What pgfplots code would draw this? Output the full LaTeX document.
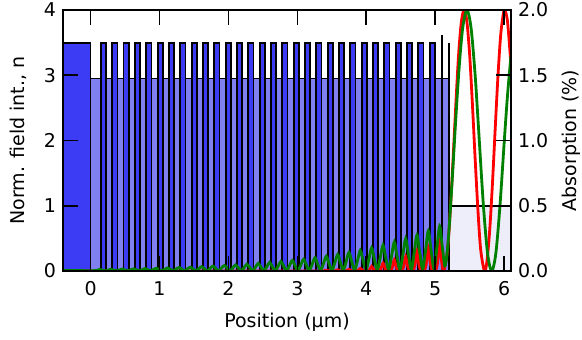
\documentclass[border=0pt]{standalone}
\usepackage{fontspec}
\setmainfont{DejaVu Sans}
\usepackage{pgfplots}
\pgfplotsset{compat=1.18}
\definecolor{dbar}{RGB}{60,60,245}
\definecolor{lbar}{RGB}{128,128,240}
\definecolor{airc}{RGB}{238,238,250}
\definecolor{qwred}{RGB}{200,30,30}
\definecolor{mgreen}{RGB}{0,128,0}
\definecolor{mred}{RGB}{255,0,0}
\begin{document}
\begin{tikzpicture}
\path[use as bounding box] (-63bp,-69bp) rectangle (519bp,271bp);
\pgfplotsset{every axis/.append style={scale only axis, width=448bp, height=261bp,
  xmin=-0.4, xmax=6.1, font=\fontsize{19bp}{22bp}\selectfont,
  tick align=inside, major tick length=15bp,
  tick style={line width=1.6bp, black}, axis line style={line width=1.6bp}}}
\begin{axis}[ymin=0, ymax=4, axis on top,
  xtick={0,1,2,3,4,5,6}, xticklabels={0,1,2,3,4,5,6},
  ytick={0,1,2,3,4}, yticklabels={0,1,2,3,4},
  xtick pos=both, xticklabel pos=bottom, ytick pos=left,
  xticklabel style={yshift=-7bp}, yticklabel style={xshift=-3.5bp},
  xlabel={Position (µm)}, ylabel={Norm. field int., n},
  xlabel style={at={(axis description cs:0.5,-0.195)}, anchor=center},
  ylabel style={at={(axis description cs:-0.1,0.5)}, anchor=center}]
% substrate
\addplot[fill=dbar, draw=black, line width=1.8bp] coordinates {(-0.5,0)(-0.5,3.5)(0,3.5)(0,0)} --cycle;
% low-index layers
\addplot[fill=lbar, draw=black, line width=1.8bp] coordinates {(0,0)(0,2.95)(5.2,2.95)(5.2,0)} --cycle;
% high-index layers
\addplot[fill=dbar, draw=black, line width=1.8bp] coordinates {
(0.150,0)(0.150,3.5)(0.225,3.5)(0.225,0)
(0.315,0)(0.315,3.5)(0.390,3.5)(0.390,0)
(0.479,0)(0.479,3.5)(0.554,3.5)(0.554,0)
(0.644,0)(0.644,3.5)(0.719,3.5)(0.719,0)
(0.808,0)(0.808,3.5)(0.883,3.5)(0.883,0)
(0.973,0)(0.973,3.5)(1.048,3.5)(1.048,0)
(1.137,0)(1.137,3.5)(1.212,3.5)(1.212,0)
(1.302,0)(1.302,3.5)(1.377,3.5)(1.377,0)
(1.466,0)(1.466,3.5)(1.541,3.5)(1.541,0)
(1.631,0)(1.631,3.5)(1.706,3.5)(1.706,0)
(1.795,0)(1.795,3.5)(1.870,3.5)(1.870,0)
(1.960,0)(1.960,3.5)(2.035,3.5)(2.035,0)
(2.124,0)(2.124,3.5)(2.199,3.5)(2.199,0)
(2.289,0)(2.289,3.5)(2.364,3.5)(2.364,0)
(2.453,0)(2.453,3.5)(2.528,3.5)(2.528,0)
(2.618,0)(2.618,3.5)(2.693,3.5)(2.693,0)
(2.782,0)(2.782,3.5)(2.857,3.5)(2.857,0)
(2.947,0)(2.947,3.5)(3.022,3.5)(3.022,0)
(3.111,0)(3.111,3.5)(3.186,3.5)(3.186,0)
(3.276,0)(3.276,3.5)(3.351,3.5)(3.351,0)
(3.440,0)(3.440,3.5)(3.515,3.5)(3.515,0)
(3.605,0)(3.605,3.5)(3.680,3.5)(3.680,0)
(3.769,0)(3.769,3.5)(3.844,3.5)(3.844,0)
(3.934,0)(3.934,3.5)(4.009,3.5)(4.009,0)
(4.098,0)(4.098,3.5)(4.173,3.5)(4.173,0)
(4.263,0)(4.263,3.5)(4.338,3.5)(4.338,0)
(4.427,0)(4.427,3.5)(4.502,3.5)(4.502,0)
(4.592,0)(4.592,3.5)(4.667,3.5)(4.667,0)
(4.756,0)(4.756,3.5)(4.831,3.5)(4.831,0)
(4.921,0)(4.921,3.5)(4.996,3.5)(4.996,0)
} --cycle;
% active layer
\addplot[fill=qwred, draw=none] coordinates {(5.098,0)(5.098,2.7)(5.118,2.7)(5.118,0)} --cycle;
\addplot[black, line width=1.8bp] coordinates {(5.094,0)(5.094,3.62)};
\addplot[black, line width=1.8bp] coordinates {(5.2,0)(5.2,3.5)};
% air
\addplot[fill=airc, draw=black, line width=1.8bp] coordinates {(5.2,0)(5.2,1)(6.3,1)(6.3,0)} --cycle;
% red field
\addplot[mred, line width=2.8bp, smooth] coordinates {
(-0.4,0)
(3.36,0)(3.39,0.004)(3.420,0.012)(3.45,0.004)(3.48,0)
(3.525,0)(3.555,0.005)(3.585,0.018)(3.615,0.005)(3.645,0)
(3.689,0)(3.719,0.008)(3.749,0.027)(3.779,0.008)(3.809,0)
(3.854,0)(3.884,0.012)(3.914,0.04)(3.944,0.012)(3.974,0)
(4.018,0)(4.048,0.021)(4.078,0.07)(4.108,0.021)(4.138,0)
(4.183,0)(4.213,0.036)(4.243,0.12)(4.273,0.036)(4.303,0)
(4.347,0)(4.377,0.051)(4.407,0.17)(4.437,0.051)(4.467,0)
(4.512,0)(4.542,0.066)(4.572,0.22)(4.602,0.066)(4.632,0)
(4.676,0)(4.706,0.09)(4.736,0.30)(4.766,0.09)(4.796,0)
(4.841,0)(4.871,0.111)(4.901,0.37)(4.931,0.111)(4.961,0)
(5.005,0)(5.035,0.135)(5.065,0.45)(5.095,0.135)(5.125,0)
(5.18,0.33)(5.22,0.94)(5.26,1.72)(5.30,2.56)(5.34,3.32)(5.38,3.82)(5.42,4.0)
(5.46,3.82)(5.50,3.32)(5.54,2.56)(5.58,1.72)(5.62,0.94)(5.66,0.33)(5.715,0)
(5.75,0.14)(5.79,0.61)(5.83,1.32)(5.87,2.16)(5.91,2.97)(5.95,3.61)(5.99,3.95)(6.01,4.0)
(6.05,3.82)(6.10,3.15)
};
% green field
\addplot[mgreen, line width=2.8bp, smooth] coordinates {
(-0.4,0.01)(0.048,0.005)
(0.130,0.024)(0.212,0.001)
(0.295,0.027)(0.377,0.001)
(0.459,0.030)(0.541,0.002)
(0.624,0.034)(0.706,0.002)
(0.788,0.038)(0.870,0.002)
(0.953,0.043)(1.035,0.002)
(1.117,0.048)(1.199,0.002)
(1.282,0.053)(1.364,0.003)
(1.446,0.059)(1.528,0.003)
(1.611,0.066)(1.693,0.003)
(1.775,0.074)(1.857,0.004)
(1.940,0.083)(2.022,0.004)
(2.063,0.047)(2.104,0.093)(2.145,0.047)(2.186,0.005)
(2.228,0.052)(2.269,0.104)(2.310,0.052)(2.351,0.005)
(2.392,0.058)(2.433,0.116)(2.474,0.058)(2.515,0.006)
(2.557,0.065)(2.598,0.130)(2.639,0.065)(2.680,0.006)
(2.721,0.073)(2.762,0.145)(2.803,0.073)(2.844,0.007)
(2.886,0.081)(2.927,0.162)(2.968,0.081)(3.009,0.008)
(3.050,0.091)(3.091,0.181)(3.132,0.091)(3.173,0.009)
(3.215,0.101)(3.256,0.202)(3.297,0.101)(3.338,0.010)
(3.379,0.113)(3.420,0.226)(3.461,0.113)(3.502,0.011)
(3.544,0.127)(3.585,0.253)(3.626,0.127)(3.667,0.013)
(3.708,0.142)(3.749,0.283)(3.790,0.142)(3.831,0.014)
(3.873,0.158)(3.914,0.316)(3.955,0.158)(3.996,0.016)
(4.037,0.177)(4.078,0.353)(4.119,0.177)(4.160,0.018)
(4.202,0.198)(4.243,0.395)(4.284,0.198)(4.325,0.020)
(4.366,0.221)(4.407,0.442)(4.448,0.221)(4.489,0.022)
(4.531,0.247)(4.572,0.494)(4.613,0.247)(4.654,0.025)
(4.695,0.276)(4.736,0.552)(4.777,0.276)(4.818,0.028)
(4.860,0.309)(4.901,0.617)(4.942,0.309)(4.983,0.031)
(5.024,0.345)(5.065,0.690)(5.100,0.40)(5.140,0.08)
(5.17,0.25)(5.20,0.62)(5.25,1.45)(5.30,2.35)(5.35,3.15)(5.40,3.73)(5.46,4.0)
(5.52,3.73)(5.58,3.0)(5.64,2.0)(5.70,1.0)(5.76,0.27)(5.82,0.0)
(5.88,0.27)(5.94,1.0)(6.00,1.95)(6.05,2.7)(6.10,3.3)
};
\end{axis}
\begin{axis}[ymin=0, ymax=2, hide x axis,
  ytick={0,0.5,1,1.5,2}, yticklabels={0.0,0.5,1.0,1.5,2.0},
  ytick pos=right, yticklabel pos=right, yticklabel style={xshift=3.5bp},
  ylabel={Absorption (\%)},
  ylabel style={at={(axis description cs:1.134,0.5)}, anchor=center}]
\addplot[draw=none] coordinates {(0,0)};
\end{axis}
\end{tikzpicture}
\end{document}
